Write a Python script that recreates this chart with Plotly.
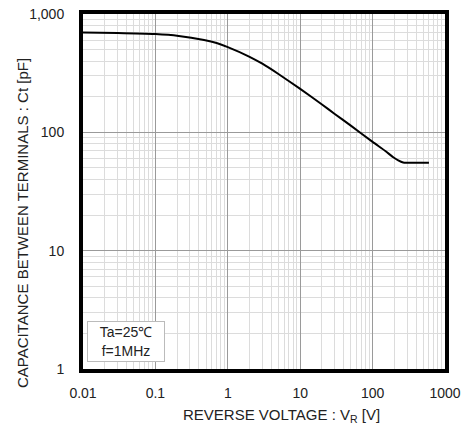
import plotly.graph_objects as go

# Data
voltage = [0.01, 0.03, 0.1, 0.21, 0.47, 0.7, 1, 2, 3, 5, 10, 20, 30, 50, 100, 150, 193, 226, 264, 300, 400, 600]
capacitance = [697, 692, 677, 652, 602, 568, 525, 435, 380, 311, 233, 172, 143, 114, 83, 69.5, 61.6, 58, 55.7, 55.4, 55.4, 55.4]

x_tick_vals = [0.01, 0.1, 1, 10, 100, 1000]
x_tick_text = ["0.01", "0.1", "1", "10", "100", "1000"]
y_tick_vals = [1, 10, 100, 1000]
y_tick_text = ["1", "10", "100", "1,000"]

W, H = 463, 430
L, R, T, B = 83, 18, 14, 61
pw, ph = W - L - R, H - T - B

FAM = "Liberation Sans, Arial, sans-serif"
tick_font = dict(family=FAM, size=14, color="#222")
title_font = dict(family=FAM, size=15, color="#222")

fig = go.Figure()
fig.add_trace(go.Scatter(
    x=voltage, y=capacitance, mode="lines",
    line=dict(color="black", width=2, shape="spline", smoothing=0.6),
    showlegend=False, hoverinfo="skip",
))

axis_common = dict(
    type="log", automargin=False,
    showline=True, linecolor="black", linewidth=4, mirror=True,
    showgrid=True, gridcolor="#9a9a9a", gridwidth=1,
    ticks="", zeroline=False,
    tickfont=tick_font, ticklabeloverflow="allow",
    minor=dict(dtick="D1", showgrid=True, gridcolor="#dcdcdc", gridwidth=1, ticks=""),
)

fig.update_xaxes(range=[-2, 3], tickvals=x_tick_vals, ticktext=x_tick_text,
                 ticklabelstandoff=8, **axis_common)
fig.update_yaxes(range=[0, 3], tickvals=y_tick_vals, ticktext=y_tick_text,
                 ticklabelstandoff=12, **axis_common)

def px(x):
    return (x - L) / pw

def py(y):
    return (H - B - y) / ph

annotations = [
    dict(text="CAPACITANCE BETWEEN TERMINALS : Ct [pF]", textangle=-90,
         xref="paper", yref="paper", x=px(22), y=py(223), showarrow=False,
         xanchor="center", yanchor="middle", font=title_font),
    dict(text="REVERSE VOLTAGE : V<sub>R</sub> [V]",
         xref="paper", yref="paper", x=px(281), y=py(415), showarrow=False,
         xanchor="center", yanchor="middle", font=title_font),
    dict(text="Ta=25℃<br>f=1MHz",
         xref="paper", yref="paper", x=px(87), y=py(362), showarrow=False,
         xanchor="left", yanchor="bottom", width=74, height=37,
         bgcolor="white", bordercolor="#bbbbbb", borderwidth=1, borderpad=1,
         font=dict(family=FAM, size=14, color="#222")),
]

fig.update_layout(
    width=W, height=H,
    margin=dict(l=L, r=R, t=T, b=B, autoexpand=False),
    paper_bgcolor="white", plot_bgcolor="white",
    font=tick_font,
    annotations=annotations,
)

fig.write_html("out.html", config={"displayModeBar": False},
               post_script="document.body.style.margin='0';")
